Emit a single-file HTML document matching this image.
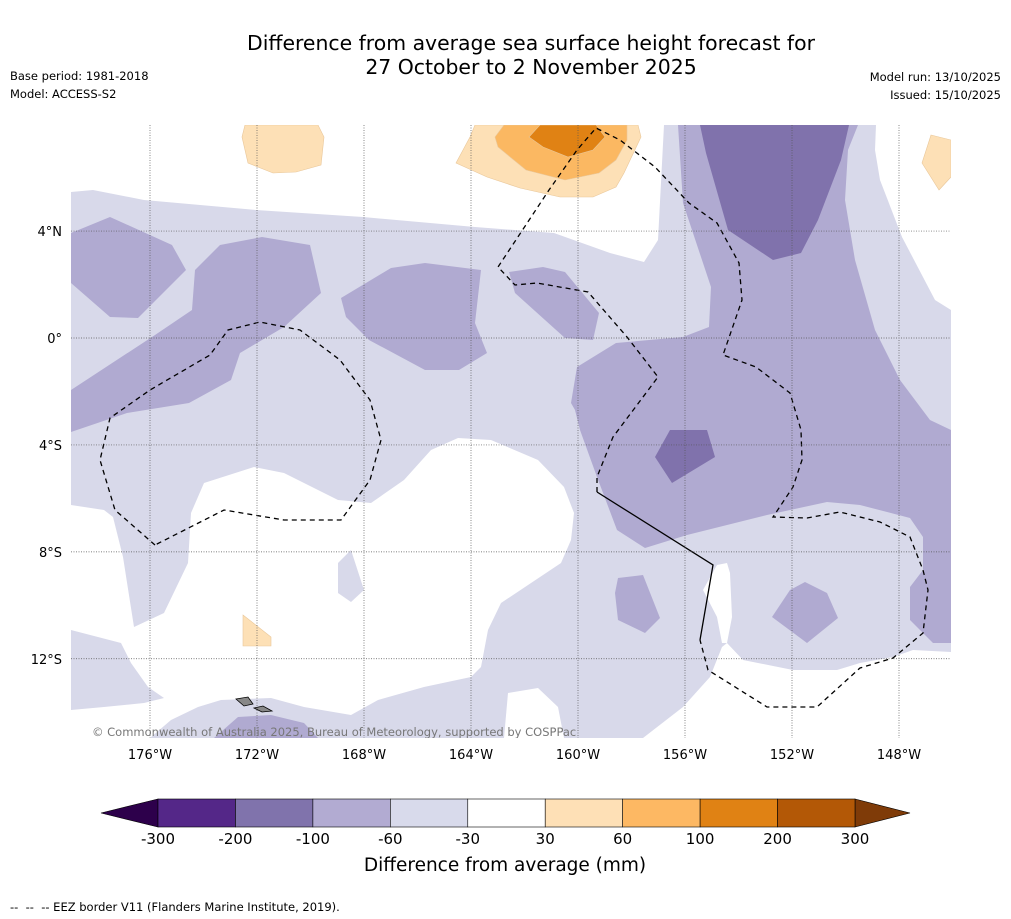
<!DOCTYPE html>
<html><head><meta charset="utf-8"><style>
body{margin:0;background:#fff;width:1011px;height:919px;overflow:hidden;font-family:"DejaVu Sans","Liberation Sans",sans-serif}
svg{position:absolute;left:0;top:0}
</style></head><body>
<svg id="s" width="1011" height="919" xmlns="http://www.w3.org/2000/svg" font-family="DejaVu Sans, Liberation Sans, sans-serif">
<text x="531" y="50" font-size="20.4" text-anchor="middle">Difference from average sea surface height forecast for</text>
<text x="531" y="74" font-size="20.4" text-anchor="middle">27 October to 2 November 2025</text>
<text x="10" y="80" font-size="11.5">Base period: 1981-2018</text>
<text x="10" y="98" font-size="11.5">Model: ACCESS-S2</text>
<text x="1001" y="81" font-size="11.5" text-anchor="end">Model run: 13/10/2025</text>
<text x="1001" y="99" font-size="11.5" text-anchor="end">Issued: 15/10/2025</text>
<defs><clipPath id="mc"><rect x="71" y="125" width="880" height="613"/></clipPath></defs>
<g id="map" clip-path="url(#mc)">
<rect x="71" y="125" width="880" height="613" fill="#d8d9ea"/>
<polygon fill="#fff" points="71,125 664,125 658,240 644,262 610,253 554,233 475,227 363,217 256,210 144,200 93,190 71,192"/>
<polygon fill="#fff" points="876,125 951,125 951,310 935,300 902,237 880,180 875,150"/>
<polygon fill="#fff" points="71,505 104,510 113,517 123,557 134,627 164,613 188,563 191,513 204,483 254,467 284,473 338,500 371,503 404,480 431,450 458,438 491,440 538,460 564,487 574,513 571,540 561,563 501,603 488,630 481,667 471,677 424,687 378,700 351,715 304,707 271,698 221,700 198,707 171,720 150,738 71,738"/>
<polygon fill="#d8d9ea" points="71,630 121,643 131,663 148,687 164,698 144,703 104,707 71,710"/>
<polygon fill="#d8d9ea" points="338,563 351,550 364,590 351,602 338,593"/>
<polygon fill="#fff" points="504,738 508,693 538,688 558,707 564,738"/>
<polygon fill="#fff" points="643,738 683,707 710,677 722,647 727,643 743,660 793,670 837,670 860,663 893,657 913,650 951,652 951,738"/>
<polygon fill="#fff" points="703,590 717,565 727,563 730,573 732,617 727,643 722,643 717,617"/>
<g fill="#b0aad1">
<polygon points="678,125 858,125 848,150 845,200 855,260 875,330 900,380 930,420 951,430 951,643 933,643 910,620 910,587 923,570 923,537 910,518 860,505 827,502 767,515 687,535 645,548 617,530 597,477 580,430 575,410 571,403 577,367 616,343 683,337 709,327 711,287 683,203"/>
<polygon points="71,233 110,217 172,245 186,270 138,318 110,317 71,283"/>
<polygon points="195,270 220,245 262,237 310,245 321,293 284,327 240,353 231,380 189,403 127,413 71,432 71,390 155,335 192,310"/>
<polygon points="341,298 391,268 425,263 481,270 475,323 487,353 459,370 425,370 369,340 346,317"/>
<polygon points="509,272 543,267 565,272 599,313 593,340 565,338 515,293"/>
<polygon points="618,578 643,575 660,618 645,633 618,620 615,593"/>
<polygon points="772,617 790,590 805,582 827,593 838,618 807,643"/>
<polygon points="214,738 238,717 271,715 304,723 318,738"/>
</g>
<g fill="#8072ac">
<polygon points="700,125 849,125 841,160 818,220 801,253 773,260 728,230 706,153"/>
<polygon points="655,457 670,430 707,430 715,457 672,483"/>
</g>
<g stroke="#e9c79a" stroke-width="0.6">
<polygon fill="#fde0b6" points="245,125 318,125 324,137 321,165 296,172 273,173 248,163 242,137"/>
<polygon fill="#fde0b6" points="475,125 638,125 641,137 624,173 616,187 593,197 560,197 520,188 487,177 456,163 470,137"/>
<polygon fill="#fbb862" points="504,125 627,125 627,140 616,160 599,173 565,180 526,170 498,147 495,137"/>
<polygon fill="#e08214" points="540,125 596,125 605,137 593,150 568,157 543,147 529,137"/>
<polygon fill="#fde0b6" points="931,135 951,140 951,177 939,190 922,163"/>
<polygon fill="#fde0b6" points="243,615 271,637 271,646 243,646"/>
</g>
<polygon fill="#888" stroke="#000" stroke-width="0.8" points="236,699 248,697 253,704 244,706"/>
<polygon fill="#888" stroke="#000" stroke-width="0.8" points="254,708 263,706 272,711 262,712"/>
<g fill="none" stroke="#000" stroke-width="1.3" stroke-dasharray="5,4">
<polyline points="155,545 115,510 100,460 110,418 150,390 210,355 228,330 260,322 300,330 340,360 370,400 381,440 370,480 341,520 300,520 284,520 224,510 155,545"/>
<polyline points="597,492 597,477 613,437 658,377 627,337 588,292 537,283 515,285 498,267 549,190 577,150 596,128 620,140 655,167 689,203 717,223 739,263 742,300 723,355 756,367 790,393 801,430 802,460 793,487 773,517 807,518 840,512 880,522 910,537 923,570 928,590 923,633 893,658 860,668 817,707 767,707 708,670 700,640"/>
</g>
<polyline fill="none" stroke="#000" stroke-width="1.3" points="597,492 713,565 700,640"/>
<g id="grid" stroke="#555" stroke-width="0.7" stroke-dasharray="1,1.5"></g>
<text x="92" y="736" font-size="11.5" fill="#777">© Commonwealth of Australia 2025, Bureau of Meteorology, supported by COSPPac</text>
</g>
<g id="ticks" font-size="13"></g>
<g id="cbar"></g>
<text x="505" y="871" font-size="18.5" text-anchor="middle">Difference from average (mm)</text>
<text x="10" y="911" font-size="11.5" xml:space="preserve">--  --  -- EEZ border V11 (Flanders Marine Institute, 2019).</text>
</svg>
<script>
const lonTicks=[176,172,168,164,160,156,152,148];
const latTicks=[4,0,-4,-8,-12];
const cbBounds=[-300,-200,-100,-60,-30,30,60,100,200,300];
const cbColors=["#542788","#8073ac","#b2abd2","#d8daeb","#ffffff","#fee0b6","#fdb863","#e08214","#b35806"];
const NS="http://www.w3.org/2000/svg";
function lonX(w){return 150+(176-w)*26.75;}
function latY(l){return 338-l*26.73;}
function mk(t,a,p){const e=document.createElementNS(NS,t);for(const k in a)e.setAttribute(k,a[k]);p.appendChild(e);return e;}
const grid=document.getElementById('grid'),ticks=document.getElementById('ticks'),cb=document.getElementById('cbar');
lonTicks.forEach(w=>{const x=lonX(w);
const l=mk('line',{x1:x,y1:125,x2:x,y2:738},grid);


const t=mk('text',{x:x,y:759,'text-anchor':'middle'},ticks);t.textContent=w+'°W';

});
latTicks.forEach(v=>{const y=latY(v);
const l=mk('line',{x1:71,y1:y,x2:951,y2:y},grid);


const t=mk('text',{x:62,y:y+5,'text-anchor':'end'},ticks);t.textContent=v>0?v+'°N':v<0?(-v)+'°S':'0°';

});
const cx0=158,cx1=855,cy=799,ch=28,n=cbColors.length,bw=(cx1-cx0)/n;
const lt=mk('polygon',{points:`101,${cy+ch/2} ${cx0},${cy} ${cx0},${cy+ch}`,fill:'#2d004b',stroke:'#000','stroke-width':0.6},cb);


const rt=mk('polygon',{points:`910,${cy+ch/2} ${cx1},${cy} ${cx1},${cy+ch}`,fill:'#7f3b08',stroke:'#000','stroke-width':0.6},cb);


cbColors.forEach((c,i)=>{const r=mk('rect',{x:cx0+i*bw,y:cy,width:bw,height:ch,fill:c,stroke:'#000','stroke-width':0.6},cb);

});
cbBounds.forEach((b,i)=>{const t=mk('text',{x:cx0+i*bw,y:844,'text-anchor':'middle','font-size':15},cb);t.textContent=b;

});
</script>
</body></html>
